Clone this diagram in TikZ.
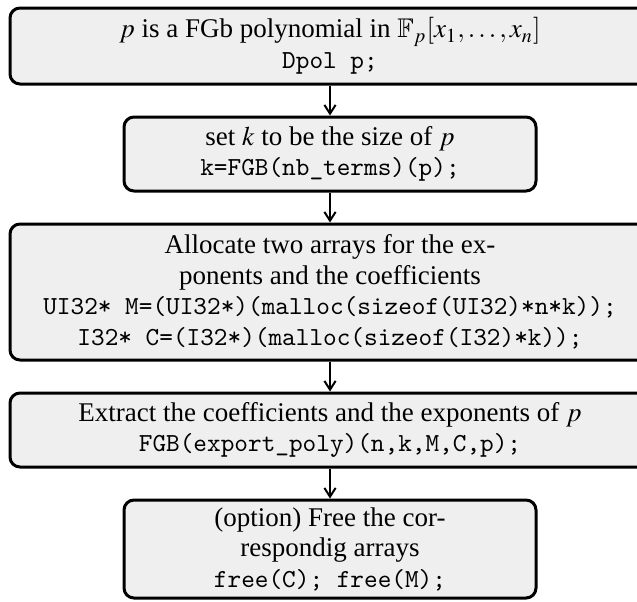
\documentclass[tikz,border=0pt]{standalone}
\usepackage{mathptmx}
\usepackage{amssymb}
\usepackage{fontspec}
\setmainfont{Liberation Serif}
\usetikzlibrary{arrows.meta}
\definecolor{boxfill}{RGB}{239,239,239}
\newlength{\pxu}
\setlength{\pxu}{0.4pt}
\tikzset{
  fgbbox/.style={draw, line width=1.2pt, rounded corners=4pt, fill=boxfill,
    align=center, inner sep=0pt, font=\fontsize{10.8}{12.2}\selectfont},
  widebox/.style={fgbbox, minimum width=640\pxu},
  narrowbox/.style={fgbbox, minimum width=412\pxu},
  flowarrow/.style={line width=0.8pt, -{Straight Barb[length=3.5pt,width=4.5pt]}}
}
\newcommand{\code}[1]{{\ttfamily\fontsize{10.4}{12.2}\selectfont #1}}
\begin{document}
\begin{tikzpicture}[x=\pxu, y=-\pxu]
\clip (0,0) rectangle (637,601);
\node[widebox, minimum height=76\pxu] (poly) at (330,46)
  {$p$ is a FGb polynomial in $\mathbb{F}_p[x_1,\ldots,x_n]$\\ \code{Dpol p;}};
\node[narrowbox, minimum height=74\pxu] (size) at (330,154)
  {set $k$ to be the size of $p$\\ \code{k=FGB(nb\_terms)(p);}};
\node[widebox, minimum height=136\pxu] (alloc) at (330,292)
  {Allocate two arrays for the ex-\\ ponents and the coefficients\\
   \code{UI32* M=(UI32*)(malloc(sizeof(UI32)*n*k));}\\
   \code{I32* C=(I32*)(malloc(sizeof(I32)*k));}};
\node[widebox, minimum height=74\pxu] (extract) at (330,430)
  {Extract the coefficients and the exponents of $p$\\ \code{FGB(export\_poly)(n,k,M,C,p);}};
\node[narrowbox, minimum height=98\pxu] (free) at (330,549)
  {(option) Free the cor-\\ respondig arrays\\ \code{free(C); free(M);}};
% arrows between the steps
\draw[flowarrow] (poly) -- (size);
\draw[flowarrow] (size) -- (alloc);
\draw[flowarrow] (alloc) -- (extract);
\draw[flowarrow] (extract) -- (free);
\end{tikzpicture}
\end{document}
